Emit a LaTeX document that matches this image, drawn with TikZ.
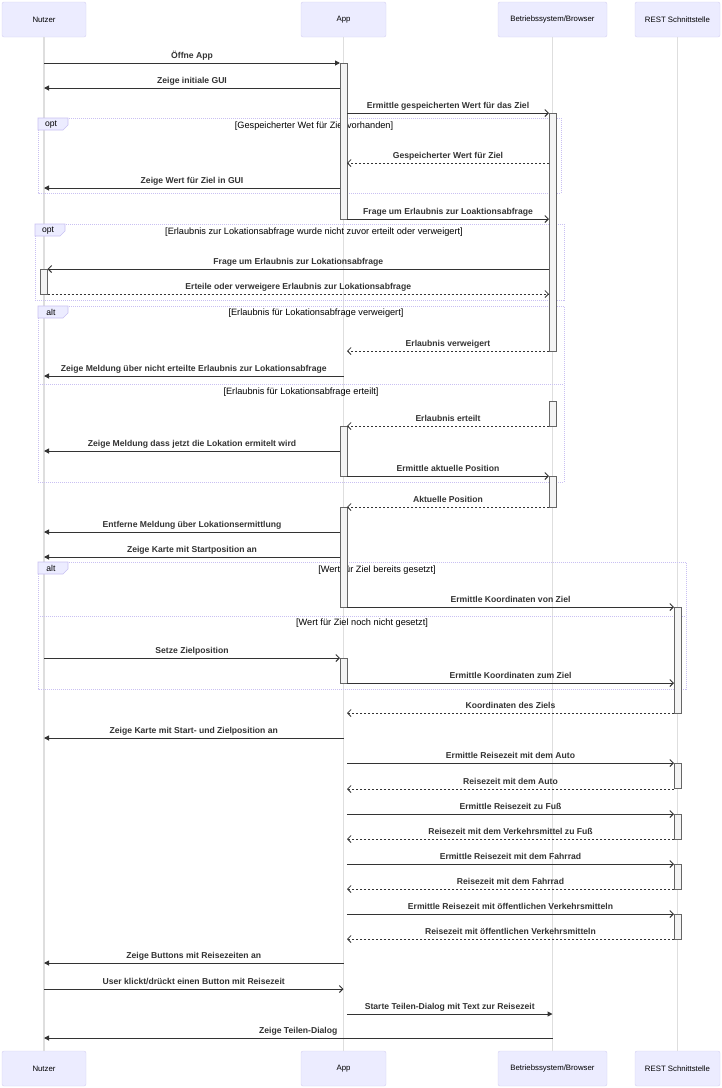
\documentclass[tikz,border=0pt]{standalone}
\usepackage{fontspec}
\setmainfont{Liberation Sans}
\usetikzlibrary{arrows.meta,positioning}

\definecolor{actorfill}{HTML}{ECECFF}
\definecolor{actorline}{HTML}{D4CEF2}
\definecolor{lifegray}{HTML}{DEDEDE}
\definecolor{msggray}{HTML}{333333}
\definecolor{loopline}{HTML}{C9C0F2}
\definecolor{actgray}{HTML}{F4F4F4}

\tikzset{
  actor/.style={draw=actorline, fill=actorfill, rounded corners=2pt, minimum height=35pt, inner sep=0pt, font=\fontsize{7.8}{9}\selectfont},
  life/.style={draw=lifegray, line width=1.3pt},
  sync/.style={draw=msggray, line width=1pt, -{Triangle[length=5pt,width=5pt]}},
  async/.style={draw=msggray, line width=1pt, -{Straight Barb[length=3.5pt,width=7pt]}},
  reply/.style={async, line width=0.8pt, dash pattern=on 2pt off 2pt},
  actbox/.style={draw=black!60, fill=actgray, line width=0.6pt},
  frame/.style={draw=loopline, line width=0.7pt, dash pattern=on 1pt off 1pt},
  tab/.style={draw=loopline, fill=actorfill, line width=0.6pt},
  lbl/.style={midway, anchor=base, yshift=5pt, inner sep=0pt, text=msggray, font=\bfseries\fontsize{8.6}{10}\selectfont},
  cond/.style={inner sep=0pt, font=\fontsize{9.2}{10}\selectfont},
  tabtext/.style={inner sep=0pt, font=\fontsize{8.6}{10}\selectfont},
}

\begin{document}
\begin{tikzpicture}[x=1pt,y=-1pt]
\useasboundingbox (0,0) rectangle (722,1088);
%participants top and bottom
\node[actor, minimum width=84pt] (nutzer) at (44,19.5) {Nutzer};
\node[actor, minimum width=85pt] (app) at (343.5,19.5) {App};
\node[actor, minimum width=109pt] (os) at (552.5,19.5) {Betriebssystem/Browser};
\node[actor, minimum width=85pt] (rest) at (677.5,19.5) {REST Schnittstelle};
\node[actor, minimum width=84pt] (nutzerB) at (44,1068.5) {Nutzer};
\node[actor, minimum width=85pt] (appB) at (343.5,1068.5) {App};
\node[actor, minimum width=109pt] (osB) at (552.5,1068.5) {Betriebssystem/Browser};
\node[actor, minimum width=85pt] (restB) at (677.5,1068.5) {REST Schnittstelle};
%draw lifelines
\draw[life] (nutzer) -- (nutzerB);
\draw[life] (app) -- (appB);
\draw[life] (os) -- (osB);
\draw[life] (rest) -- (restB);
%edges of the activation bars
\coordinate (nutzerR) at ([xshift=3.5pt]nutzer.south);
\coordinate (nutzerL) at ([xshift=-3.5pt]nutzer.south);
\coordinate (appL) at ([xshift=-3.5pt]app.south);
\coordinate (appR) at ([xshift=3.5pt]app.south);
\coordinate (osL) at ([xshift=-3.5pt]os.south);
\coordinate (osR) at ([xshift=3.5pt]os.south);
\coordinate (restL) at ([xshift=-3.5pt]rest.south);
\coordinate (restR) at ([xshift=3.5pt]rest.south);

% opt: gespeicherter Wert
\draw[frame] (38,118) rectangle (561,193);
\draw[tab] (38,118) -- (68,118) -- (68,125) -- (63,130) -- (38,130) -- cycle;
\node[tabtext] (opt1) at (51,124.5) {opt};
\node[cond] (opt1c) at (314,126) {[Gespeicherter Wet für Ziel vorhanden]};
% opt: Erlaubnis
\draw[frame] (35,224) rectangle (564,300);
\draw[tab] (35,224) -- (65,224) -- (65,231) -- (60,236) -- (35,236) -- cycle;
\node[tabtext] (opt2) at (48,230.5) {opt};
\node[cond] (opt2c) at (314,232) {[Erlaubnis zur Lokationsabfrage wurde nicht zuvor erteilt oder verweigert]};
% alt: Erlaubnis verweigert / erteilt
\draw[frame] (38,306) rectangle (564,482);
\draw[frame] (38,384) -- (564,384);
\draw[tab] (38,306) -- (68,306) -- (68,313) -- (63,318) -- (38,318) -- cycle;
\node[tabtext] (alt1) at (51,312.5) {alt};
\node[cond] (alt1c) at (316,313) {[Erlaubnis für Lokationsabfrage verweigert]};
\node[cond] (alt1e) at (301,392) {[Erlaubnis für Lokationsabfrage erteilt]};
% alt: Ziel gesetzt / nicht gesetzt
\draw[frame] (38,562) rectangle (686,689);
\draw[frame] (38,616) -- (686,616);
\draw[tab] (38,562) -- (68,562) -- (68,569) -- (63,574) -- (38,574) -- cycle;
\node[tabtext] (alt2) at (51,568.5) {alt};
\node[cond] (alt2c) at (377,570) {[Wert für Ziel bereits gesetzt]};
\node[cond] (alt2e) at (362,623) {[Wert für Ziel noch nicht gesetzt]};

%activation bars
\draw[actbox] (appL |- 0,63) rectangle (appR |- 0,219);
\draw[actbox] (osL |- 0,113) rectangle (osR |- 0,351);
\draw[actbox] (nutzerL |- 0,269) rectangle (nutzerR |- 0,294);
\draw[actbox] (osL |- 0,401) rectangle (osR |- 0,426);
\draw[actbox] (appL |- 0,426) rectangle (appR |- 0,476);
\draw[actbox] (osL |- 0,476) rectangle (osR |- 0,507);
\draw[actbox] (appL |- 0,507) rectangle (appR |- 0,607);
\draw[actbox] (restL |- 0,607) rectangle (restR |- 0,713);
\draw[actbox] (appL |- 0,658) rectangle (appR |- 0,683);
\foreach \y in {763,814,864,914}{
   \draw[actbox] (restL |- 0,\y) rectangle (restR |- 0,\y+25);
}

%messages
\draw[sync] (nutzer |- 0,63) -- (appL |- 0,63) node[lbl] {Öffne App};
\draw[sync] (appL |- 0,88) -- (nutzer |- 0,88) node[lbl] {Zeige initiale GUI};
\draw[async] (appR |- 0,113) -- (osL |- 0,113) node[lbl] {Ermittle gespeicherten Wert für das Ziel};
\draw[reply] (osL |- 0,163) -- (appR |- 0,163) node[lbl] {Gespeicherter Wert für Ziel};
\draw[sync] (appL |- 0,188) -- (nutzer |- 0,188) node[lbl] {Zeige Wert für Ziel in GUI};
\draw[async] (appR |- 0,219) -- (osL |- 0,219) node[lbl] {Frage um Erlaubnis zur Loaktionsabfrage};
\draw[async] (osL |- 0,269) -- (nutzerR |- 0,269) node[lbl] {Frage um Erlaubnis zur Lokationsabfrage};
\draw[reply] (nutzerR |- 0,294) -- (osL |- 0,294) node[lbl] {Erteile oder verweigere Erlaubnis zur Lokationsabfrage};
\draw[reply] (osL |- 0,351) -- (appR |- 0,351) node[lbl] {Erlaubnis verweigert};
\draw[sync] (app |- 0,376) -- (nutzer |- 0,376) node[lbl] {Zeige Meldung über nicht erteilte Erlaubnis zur Lokationsabfrage};
\draw[reply] (osL |- 0,426) -- (appR |- 0,426) node[lbl] {Erlaubnis erteilt};
\draw[sync] (appL |- 0,451) -- (nutzer |- 0,451) node[lbl] {Zeige Meldung dass jetzt die Lokation ermitelt wird};
\draw[async] (appR |- 0,476) -- (osL |- 0,476) node[lbl] {Ermittle aktuelle Position};
\draw[reply] (osL |- 0,507) -- (appR |- 0,507) node[lbl] {Aktuelle Position};
\draw[sync] (appL |- 0,532) -- (nutzer |- 0,532) node[lbl] {Entferne Meldung über Lokationsermittlung};
\draw[sync] (appL |- 0,557) -- (nutzer |- 0,557) node[lbl] {Zeige Karte mit Startposition an};
\draw[async] (appR |- 0,607) -- (restL |- 0,607) node[lbl] {Ermittle Koordinaten von Ziel};
\draw[async] (nutzer |- 0,658) -- (appL |- 0,658) node[lbl] {Setze Zielposition};
\draw[async] (appR |- 0,683) -- (restL |- 0,683) node[lbl] {Ermittle Koordinaten zum Ziel};
\draw[reply] (restL |- 0,713) -- (appR |- 0,713) node[lbl] {Koordinaten des Ziels};
\draw[sync] (app |- 0,738) -- (nutzer |- 0,738) node[lbl] {Zeige Karte mit Start- und Zielposition an};
% Reisezeiten
\draw[async] (appR |- 0,763) -- (restL |- 0,763) node[lbl] {Ermittle Reisezeit mit dem Auto};
\draw[reply] (restL |- 0,789) -- (appR |- 0,789) node[lbl] {Reisezeit mit dem Auto};
\draw[async] (appR |- 0,814) -- (restL |- 0,814) node[lbl] {Ermittle Reisezeit zu Fuß};
\draw[reply] (restL |- 0,839) -- (appR |- 0,839) node[lbl] {Reisezeit mit dem Verkehrsmittel zu Fuß};
\draw[async] (appR |- 0,864) -- (restL |- 0,864) node[lbl] {Ermittle Reisezeit mit dem Fahrrad};
\draw[reply] (restL |- 0,889) -- (appR |- 0,889) node[lbl] {Reisezeit mit dem Fahrrad};
\draw[async] (appR |- 0,914) -- (restL |- 0,914) node[lbl] {Ermittle Reisezeit mit öffentlichen Verkehrsmitteln};
\draw[reply] (restL |- 0,939) -- (appR |- 0,939) node[lbl] {Reisezeit mit öffentlichen Verkehrsmitteln};
% teilen
\draw[sync] (app |- 0,963) -- (nutzer |- 0,963) node[lbl] {Zeige Buttons mit Reisezeiten an};
\draw[async] (nutzer |- 0,989) -- (app |- 0,989) node[lbl] {User klickt/drückt einen Button mit Reisezeit};
\draw[sync] (appR |- 0,1014) -- (os |- 0,1014) node[lbl] {Starte Teilen-Dialog mit Text zur Reisezeit};
\draw[sync] (os |- 0,1038) -- (nutzer |- 0,1038) node[lbl] {Zeige Teilen-Dialog};
\end{tikzpicture}
\end{document}
